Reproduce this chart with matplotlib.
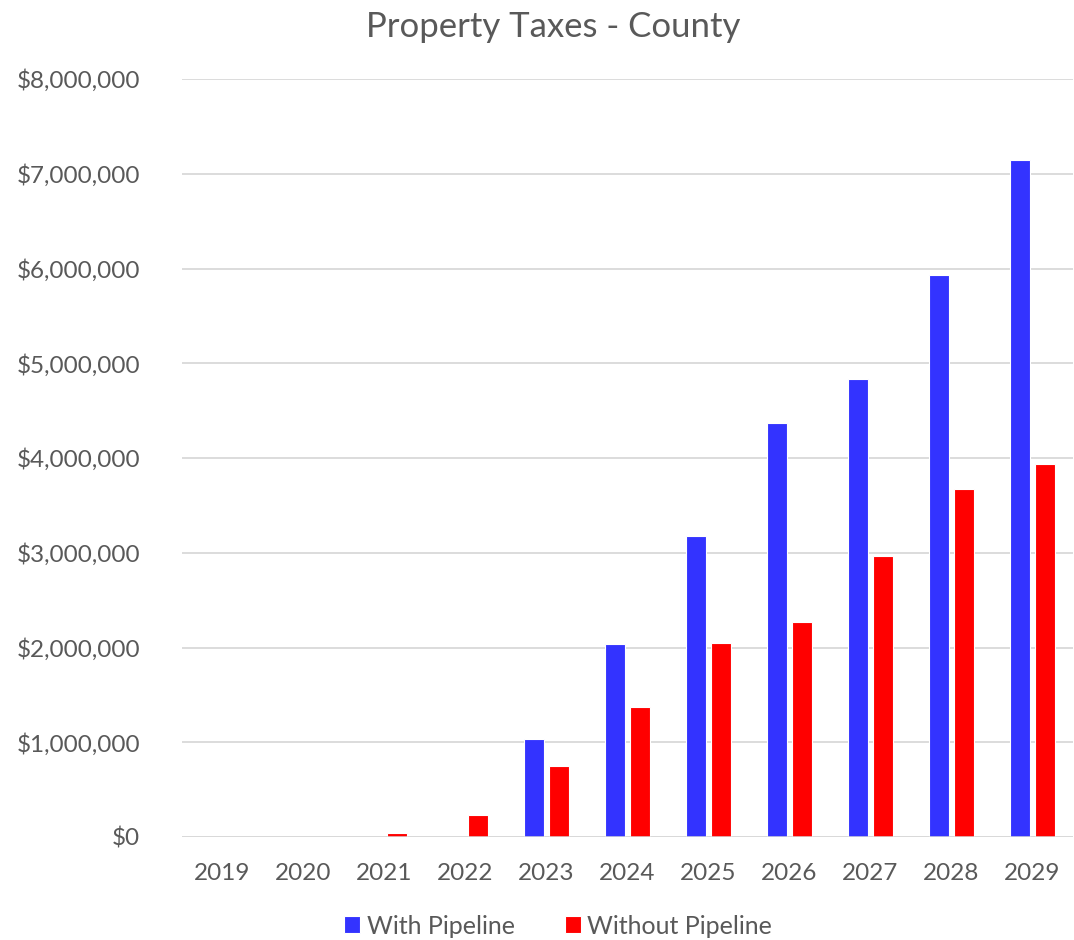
import matplotlib.pyplot as plt
import numpy as np
from matplotlib.ticker import FuncFormatter

years = ['2019', '2020', '2021', '2022', '2023', '2024', '2025', '2026', '2027', '2028', '2029']
with_pipeline = [0, 0, 0, 0, 1034000, 2037000, 3177000, 4369000, 4834000, 5931000, 7145000]
without_pipeline = [0, 0, 42000, 232000, 749000, 1372000, 2047000, 2269000, 2966000, 3673000, 3937000]

plt.rcParams['font.family'] = ['Lato', 'DejaVu Sans']
text_color = '#595959'

fig = plt.figure(figsize=(10.74, 9.4), dpi=100)
ax = fig.add_axes([182 / 1074, 103 / 940, 891 / 1074, 758 / 940])

x = np.arange(len(years))
w = 0.25
off = 0.15
ax.bar(x - off, with_pipeline, w, color='#3333FF', edgecolor='white', linewidth=0.8,
       label='With Pipeline', zorder=3)
ax.bar(x + off, without_pipeline, w, color='#FF0000', edgecolor='white', linewidth=0.8,
       label='Without Pipeline', zorder=3)

ax.set_xlim(-0.5, len(years) - 0.5)
ax.set_ylim(0, 8000000)
ax.set_yticks(np.arange(0, 8000001, 1000000))
ax.yaxis.set_major_formatter(FuncFormatter(lambda v, p: f'${v:,.0f}'))
ax.set_xticks(x)
ax.set_xticklabels(years)

ax.grid(axis='y', color='#D9D9D9', linewidth=1.3, zorder=0)
ax.axhline(0, color='#D9D9D9', linewidth=1.8, zorder=4)
for s in ax.spines.values():
    s.set_visible(False)
ax.tick_params(axis='both', length=0, labelsize=17.5, colors=text_color)
ax.tick_params(axis='y', pad=30)
ax.tick_params(axis='x', pad=19)

fig.text(553 / 1074, 1 - 27 / 940, 'Property Taxes - County', ha='center', va='center',
         fontsize=25, color=text_color)

fig.legend(loc='center', bbox_to_anchor=(558 / 1074, 1 - 926 / 940), ncol=2, frameon=False,
           fontsize=18, labelcolor=text_color, handlelength=0.65, handleheight=0.65,
           handletextpad=0.25, columnspacing=2.0)

fig.savefig('out.png', dpi=100, facecolor='white')
